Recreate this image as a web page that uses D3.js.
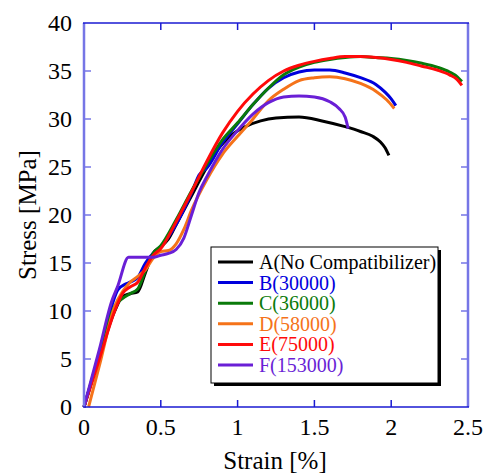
<!DOCTYPE html>
<html>
<head>
<meta charset="utf-8">
<script src="https://d3js.org/d3.v7.min.js"></script>
</head>
<body style="margin:0">
<script>
// strain [%] / stress [MPa]
var seriesNames = ["A(No Compatibilizer)", "B(30000)", "C(36000)", "D(58000)", "E(75000)", "F(153000)"];
var seriesColors = ["#000000", "#0000dd", "#0a7a0a", "#f5731a", "#ff0a0a", "#6a1fd6"];

var curveA = [[0,0],[0.1,5.2],[0.2,10],[0.25,11.5],[0.3,11.8],[0.35,12],[0.4,14],[0.45,16],[0.5,16.7],[0.55,17.5],[0.6,19],[0.7,22],[0.8,25],[0.87,26.8],[0.95,28.2],[1.05,29.2],[1.15,29.8],[1.25,30.1],[1.4,30.2],[1.55,29.8],[1.7,29.2],[1.8,28.7],[1.88,28.2],[1.93,27.6],[1.96,27],[1.985,26.2]];
var curveB = [[0,0],[0.1,5.5],[0.18,10.5],[0.22,12.2],[0.27,12.8],[0.3,13],[0.35,13.5],[0.4,15],[0.45,16],[0.5,16.7],[0.6,19],[0.7,22.3],[0.75,24.2],[0.8,24.9],[0.9,27.5],[1.0,29.5],[1.1,31.5],[1.2,33.2],[1.3,34.3],[1.4,34.9],[1.5,35.1],[1.6,35.1],[1.7,34.8],[1.8,34.3],[1.9,33.6],[1.96,32.8],[2.0,32.1],[2.03,31.4]];
var curveC = [[0,0],[0.1,5.5],[0.2,10.5],[0.25,11.3],[0.3,11.8],[0.35,12.3],[0.4,14.2],[0.45,16],[0.5,16.8],[0.6,19.5],[0.7,22.5],[0.8,25.3],[0.9,27.8],[1.0,29.6],[1.1,31.5],[1.2,33.2],[1.3,34.6],[1.4,35.4],[1.5,35.9],[1.6,36.2],[1.7,36.4],[1.8,36.5],[1.9,36.4],[2.0,36.3],[2.1,36.1],[2.2,35.8],[2.3,35.4],[2.38,34.9],[2.43,34.4],[2.46,33.9]];
var curveD = [[0.03,0],[0.1,4.3],[0.2,10.5],[0.25,12],[0.3,13],[0.35,13.6],[0.4,14.3],[0.45,15.5],[0.5,16.2],[0.55,16.3],[0.6,17],[0.65,18.5],[0.7,20.5],[0.8,23.7],[0.9,26.3],[1.0,28.2],[1.1,30],[1.2,31.9],[1.3,33.1],[1.4,34],[1.5,34.3],[1.6,34.4],[1.7,34.2],[1.8,33.7],[1.9,32.9],[1.97,32],[2.02,31.1]];
var curveE = [[0,0],[0.1,5],[0.2,10],[0.25,11.8],[0.3,12.5],[0.35,13],[0.4,14.5],[0.45,15.8],[0.5,16.5],[0.6,19.3],[0.7,22.4],[0.8,25.6],[0.9,28.5],[1.0,30.8],[1.1,32.6],[1.2,34],[1.3,35],[1.4,35.6],[1.5,36],[1.6,36.3],[1.7,36.5],[1.8,36.5],[1.9,36.4],[2.0,36.2],[2.1,35.9],[2.2,35.5],[2.3,35.1],[2.38,34.6],[2.43,34.1],[2.46,33.5]];
var curveF = [[0,0],[0.1,6],[0.18,11],[0.22,12.6],[0.29,15.6],[0.35,15.6],[0.45,15.6],[0.5,15.8],[0.55,16],[0.6,16.4],[0.65,17.6],[0.7,20],[0.75,22.4],[0.8,24],[0.9,26.8],[1.0,28.8],[1.1,30.5],[1.2,31.7],[1.3,32.3],[1.4,32.4],[1.5,32.3],[1.6,31.8],[1.66,31.1],[1.7,30.2],[1.72,29]];
var curves = [curveA, curveB, curveC, curveD, curveE, curveF];

var xTicks = [0, 0.5, 1, 1.5, 2, 2.5];
var yTicks = [0, 5, 10, 15, 20, 25, 30, 35, 40];

var W = 486, H = 475;
var m = {left: 84, right: 18, top: 23, bottom: 68};
var pw = W - m.left - m.right, ph = H - m.top - m.bottom;

var svg = d3.select("body").append("svg").attr("width", W).attr("height", H)
  .style("display", "block");

var x = d3.scaleLinear().domain([0, 2.5]).range([0, pw]);
var y = d3.scaleLinear().domain([0, 40]).range([ph, 0]);

var g = svg.append("g").attr("transform", "translate(" + m.left + "," + m.top + ")");

var light = "#7676e6", dark = "#1a1ad2";

// curves
var line = d3.line().x(function(d) { return x(d[0]); }).y(function(d) { return y(d[1]); })
  .curve(d3.curveMonotoneX);
g.selectAll("path.c").data(curves).enter().append("path")
  .attr("class", "c")
  .attr("d", line)
  .attr("fill", "none")
  .attr("stroke", function(d, i) { return seriesColors[i]; })
  .attr("stroke-width", 3)
  .attr("stroke-linejoin", "round");

// inward ticks on all four sides
function tickLines(vals, x1, y1, x2, y2, col) {
  g.append("g").selectAll("line").data(vals).enter().append("line")
    .attr("x1", x1).attr("y1", y1).attr("x2", x2).attr("y2", y2)
    .attr("stroke", col).attr("stroke-width", 1.5);
}
var xIn = xTicks.slice(1, -1), yIn = yTicks.slice(1, -1);
tickLines(xIn, function(d) { return x(d); }, ph, function(d) { return x(d); }, ph - 7, dark);
tickLines(xIn, function(d) { return x(d); }, 0, function(d) { return x(d); }, 7, dark);
tickLines(yIn, 0, function(d) { return y(d); }, 7, function(d) { return y(d); }, light);
tickLines(yIn, pw, function(d) { return y(d); }, pw - 7, function(d) { return y(d); }, light);

g.append("g").selectAll("text").data(xTicks).enter().append("text")
  .attr("x", function(d) { return x(d); }).attr("y", ph + 28)
  .attr("text-anchor", "middle")
  .style("font-family", "Times New Roman").style("font-size", "24px")
  .text(function(d) { return String(d); });
g.append("g").selectAll("text").data(yTicks).enter().append("text")
  .attr("x", -12).attr("y", function(d) { return y(d) + 8; })
  .attr("text-anchor", "end")
  .style("font-family", "Times New Roman").style("font-size", "24px")
  .text(function(d) { return String(d); });

// frame
g.append("line").attr("x1", 0).attr("x2", 0).attr("y1", 0).attr("y2", ph).attr("stroke", light).attr("stroke-width", 2.5);
g.append("line").attr("x1", pw).attr("x2", pw).attr("y1", 0).attr("y2", ph).attr("stroke", light).attr("stroke-width", 2.5);
g.append("line").attr("x1", -1).attr("x2", pw + 1).attr("y1", 0).attr("y2", 0).attr("stroke", dark).attr("stroke-width", 1.5);
g.append("line").attr("x1", -1).attr("x2", pw + 1).attr("y1", ph).attr("y2", ph).attr("stroke", dark).attr("stroke-width", 1.5);

// axis titles
svg.append("text").attr("x", m.left + pw / 2 - 1).attr("y", 469).attr("text-anchor", "middle")
  .style("font-family", "Times New Roman").style("font-size", "25px").text("Strain [%]");
svg.append("text").attr("transform", "translate(36," + (m.top + ph / 2) + ") rotate(-90)")
  .attr("text-anchor", "middle")
  .style("font-family", "Times New Roman").style("font-size", "25px").text("Stress [MPa]");

// legend
var lg = svg.append("g").attr("transform", "translate(211,247)");
var lw = 227, lh = 136;
lg.append("rect").attr("x", 3).attr("y", 3).attr("width", lw).attr("height", lh).attr("fill", "#000");
lg.append("rect").attr("x", 0).attr("y", 0).attr("width", lw).attr("height", lh)
  .attr("fill", "#fff").attr("stroke", "#000").attr("stroke-width", 1);
var items = lg.selectAll("g.it").data(seriesNames).enter().append("g")
  .attr("class", "it")
  .attr("transform", function(d, i) { return "translate(0," + (15 + i * 20.6) + ")"; });
items.append("line").attr("x1", 7).attr("x2", 42).attr("y1", 0).attr("y2", 0)
  .attr("stroke", function(d, i) { return seriesColors[i]; }).attr("stroke-width", 3);
items.append("text").attr("x", 48).attr("y", 7)
  .style("font-family", "Times New Roman").style("font-size", "20px")
  .attr("fill", function(d, i) { return seriesColors[i]; }).text(function(d) { return d; });
</script>
</body>
</html>
